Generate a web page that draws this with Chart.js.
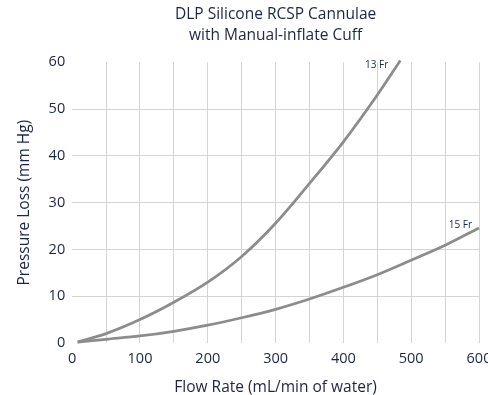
<!DOCTYPE html>
<html>
<head>
<meta charset="utf-8">
<script src="https://cdn.jsdelivr.net/npm/chart.js@4/dist/chart.umd.min.js"></script>
<style>
  html, body { margin: 0; padding: 0; background: #fff; overflow: hidden; }
  #wrap { position: relative; width: 543px; height: 397px; }
</style>
</head>
<body>
<div id="wrap"><canvas id="chart"></canvas></div>
<script>
// values
const flow13 = [8, 50, 100, 150, 200, 250, 300, 350, 400, 450, 484];
const loss13 = [0.2, 2.0, 5.0, 8.7, 13.0, 18.5, 25.6, 34.1, 43.0, 53.0, 60.4];
const flow15 = [8, 50, 100, 150, 200, 250, 300, 350, 400, 450, 500, 550, 600];
const loss15 = [0.2, 0.8, 1.5, 2.5, 3.8, 5.4, 7.2, 9.4, 11.9, 14.6, 17.7, 20.9, 24.6];
const seriesNames = ['13 Fr', '15 Fr'];

const textColor = '#1b2547';
const lineColor = '#8c8c8c';
const gridColor = '#d4d4d4';
const font = "'Open Sans', sans-serif";

const toPoints = (xs, ys) => xs.map((x, i) => ({ x: x, y: ys[i] }));

// small labels at the end of each curve
const endLabels = {
  id: 'endLabels',
  afterDatasetsDraw(chart) {
    const ctx = chart.ctx;
    const offsets = [[-12, 5], [-7, -3]];
    ctx.save();
    ctx.font = '10px ' + font;
    ctx.fillStyle = textColor;
    ctx.textAlign = 'right';
    ctx.textBaseline = 'middle';
    chart.data.datasets.forEach((ds, i) => {
      const pts = chart.getDatasetMeta(i).data;
      const last = pts[pts.length - 1];
      ctx.fillText(ds.label, last.x + offsets[i][0], last.y + offsets[i][1]);
    });
    ctx.restore();
  }
};

new Chart(document.getElementById('chart'), {
  type: 'line',
  data: {
    datasets: [
      { label: seriesNames[0], data: toPoints(flow13, loss13) },
      { label: seriesNames[1], data: toPoints(flow15, loss15) }
    ].map(d => Object.assign(d, {
      borderColor: lineColor,
      borderWidth: 2.75,
      pointRadius: 0,
      fill: false,
      cubicInterpolationMode: 'monotone',
      clip: false
    }))
  },
  options: {
    responsive: true,
    maintainAspectRatio: false,
    animation: false,
    layout: { padding: { left: 15, right: 64, top: 0, bottom: 0 } },
    plugins: {
      legend: { display: false },
      tooltip: { enabled: false },
      title: {
        display: true,
        fullSize: false,
        text: ['DLP Silicone RCSP Cannulae', 'with Manual-inflate Cuff'],
        color: textColor,
        font: { family: font, size: 15.5, weight: 'normal', lineHeight: 1.3 },
        padding: { top: 5, bottom: 17 }
      }
    },
    scales: {
      x: {
        type: 'linear',
        min: 0,
        max: 600,
        border: { display: false },
        grid: {
          drawTicks: false,
          color: c => c.tick && c.tick.value === 0 ? 'rgba(0,0,0,0)' : gridColor
        },
        ticks: {
          stepSize: 50,
          autoSkip: false,
          maxRotation: 0,
          padding: 7,
          color: textColor,
          font: { family: font, size: 14.5 },
          callback: v => v % 100 === 0 ? v : ''
        },
        title: {
          display: true,
          text: 'Flow Rate (mL/min of water)',
          color: textColor,
          font: { family: font, size: 15.5 },
          padding: { top: 4, bottom: 0 }
        }
      },
      y: {
        min: 0,
        max: 60,
        border: { display: false },
        grid: {
          drawTicks: false,
          color: c => c.tick && (c.tick.value === 0 || c.tick.value === 60) ? 'rgba(0,0,0,0)' : gridColor
        },
        ticks: {
          stepSize: 10,
          padding: 7,
          color: textColor,
          font: { family: font, size: 14.5 }
        },
        title: {
          display: true,
          text: 'Pressure Loss (mm Hg)',
          color: textColor,
          font: { family: font, size: 15.5 },
          padding: { top: 0, bottom: 8 }
        }
      }
    }
  },
  plugins: [endLabels]
});
</script>
</body>
</html>
